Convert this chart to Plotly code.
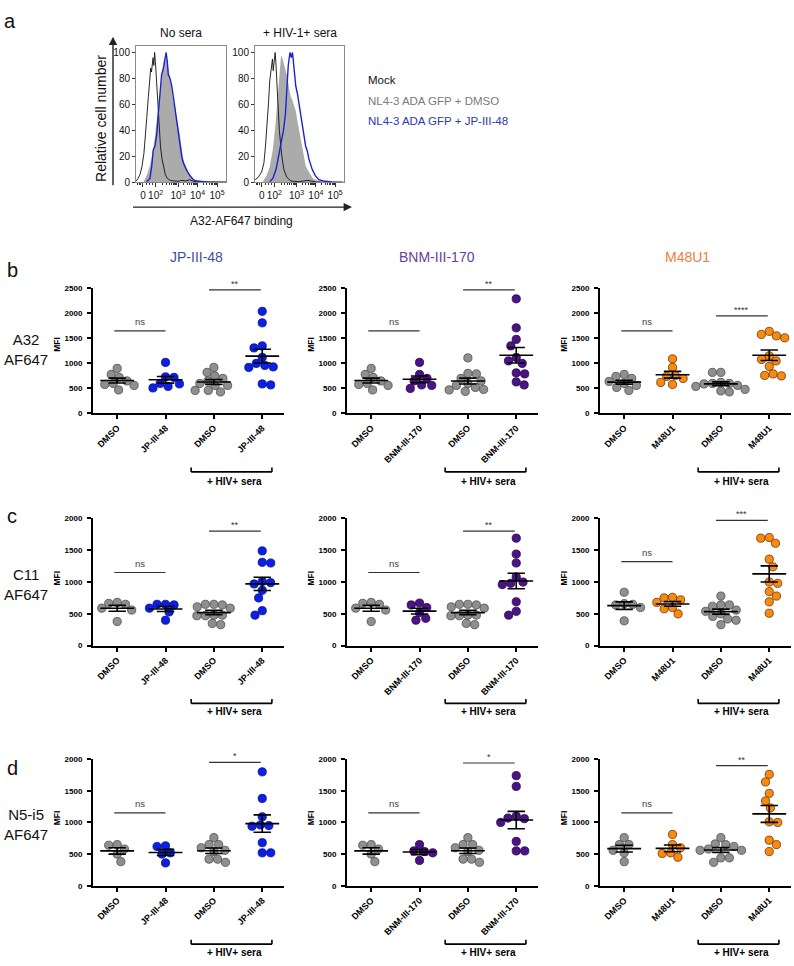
import numpy as np
import plotly.graph_objects as go

# ---------------- Panel a: flow histograms (x: log-decade display units, y: % of mode)
MOCK_NOSERA_U = [0.85, 0.95, 1.05, 1.15, 1.25, 1.32, 1.40, 1.48, 1.55, 1.60, 1.64, 1.68, 1.72, 1.76, 1.80,
                 1.84, 1.88, 1.93, 1.98, 2.04, 2.10, 2.18, 2.26, 2.35, 2.45, 2.6, 2.8, 3.0, 3.2, 3.4, 3.6,
                 3.8, 4.0, 4.5, 5.0, 5.46]
MOCK_NOSERA_V = [1, 3, 6, 12, 22, 33, 50, 66, 80, 88, 85, 92, 96, 90, 100, 93, 84, 70, 55, 40, 28, 18, 11,
                 6, 3, 1.5, 1, 0.8, 1.5, 1, 2, 0.8, 0.5, 0.2, 0, 0]
DMSO_NOSERA_U = [1.22, 1.39, 1.56, 1.73, 1.82, 1.91, 2.00, 2.08, 2.14, 2.20, 2.25, 2.30, 2.35, 2.39, 2.43,
                 2.47, 2.53, 2.59, 2.67, 2.76, 2.85, 2.93, 3.02, 3.10, 3.18, 3.27, 3.36, 3.45, 3.58, 3.70,
                 3.83, 3.96, 4.13]
DMSO_NOSERA_V = [0, 5, 13, 25, 36, 48, 60, 71, 80, 88, 91, 96, 93, 98, 95, 92, 86, 80, 72, 62, 57, 51, 44,
                 36, 27, 18, 14, 10, 6, 4, 2, 1, 0]
JP_NOSERA_U = [1.39, 1.56, 1.65, 1.73, 1.82, 1.91, 1.99, 2.08, 2.16, 2.25, 2.33, 2.39, 2.45, 2.50, 2.59,
               2.68, 2.76, 2.85, 2.93, 3.02, 3.10, 3.19, 3.27, 3.36, 3.45, 3.62, 3.79, 3.96, 4.47, 5.46]
JP_NOSERA_V = [0.5, 3, 12, 25, 28, 37, 53, 69, 83, 88, 97, 100, 93, 83, 80, 74, 66, 56, 47, 38, 28, 20, 15,
               12, 9, 5, 2, 1, 0.3, 0]

MOCK_SERA_U = [0.85, 1.02, 1.19, 1.31, 1.39, 1.48, 1.55, 1.61, 1.66, 1.70, 1.75, 1.79, 1.82, 1.86, 1.89,
               1.93, 1.96, 2.03, 2.11, 2.22, 2.34, 2.49, 2.71, 3.13, 3.6, 3.98, 4.5, 5.46]
MOCK_SERA_V = [2, 4, 8, 15, 28, 45, 62, 78, 84, 88, 95, 86, 90, 97, 100, 92, 85, 62, 40, 22, 10, 4, 1, 0.5,
               1.5, 0.3, 0, 0]
DMSO_SERA_U = [1.27, 1.44, 1.61, 1.77, 1.91, 2.03, 2.11, 2.20, 2.28, 2.37, 2.45, 2.54, 2.62, 2.70, 2.79,
               2.88, 2.96, 3.05, 3.13, 3.22, 3.30, 3.39, 3.47, 3.60, 3.72, 3.85, 3.98, 4.32]
DMSO_SERA_V = [1, 5, 12, 25, 45, 70, 85, 98, 95, 90, 86, 80, 72, 66, 63, 58, 55, 47, 40, 33, 25, 18, 13, 9,
               6, 3, 2, 0.5]
JP_SERA_U = [1.61, 1.77, 1.94, 2.08, 2.20, 2.32, 2.42, 2.50, 2.57, 2.66, 2.73, 2.79, 2.88, 2.96, 3.05, 3.13,
             3.22, 3.30, 3.39, 3.47, 3.56, 3.64, 3.81, 3.98, 4.15, 4.40, 4.83, 5.37]
JP_SERA_V = [0.5, 3, 10, 22, 33, 40, 52, 70, 90, 100, 96, 100, 88, 74, 68, 60, 52, 43, 35, 28, 24, 18, 10, 5,
             2, 1, 0.3, 0]

HIST_TICK_POS = [1.2, 1.85, 3, 4, 5]
HIST_TICK_TEXT = ["0", "10<sup>2</sup>", "10<sup>3</sup>", "10<sup>4</sup>", "10<sup>5</sup>"]
HIST_Y_TICKS = [0, 20, 40, 60, 80, 100]
HIST_TITLES = ["No sera", "+ HIV-1+ sera"]
LEGEND_TEXT = ["Mock", "NL4-3 ADA GFP + DMSO", "NL4-3 ADA GFP + JP-III-48"]

# ---------------- Panels b-d: MFI per group [DMSO, drug, DMSO + sera, drug + sera]
COL_TITLES = ["JP-III-48", "BNM-III-170", "M48U1"]
ROW_LABELS = ["A32<br>AF647", "C11<br>AF647", "N5-i5<br>AF647"]
ROW_LETTERS = ["b", "c", "d"]
Y_MAX = [2500, 2000, 2000]
Y_TICKS = [[0, 500, 1000, 1500, 2000, 2500], [0, 500, 1000, 1500, 2000], [0, 500, 1000, 1500, 2000]]
SERA_LABEL = "+ HIV+ sera"

a32_jp = [[780, 900, 720, 600, 580, 470, 560, 650],
          [1020, 730, 720, 600, 540, 510, 590],
          [820, 920, 560, 600, 650, 560, 460, 430, 460, 700, 750],
          [2040, 1810, 1350, 1310, 1120, 1000, 960, 920, 930, 570, 590]]
a32_bnm = [[780, 900, 720, 600, 580, 470, 560, 650],
           [1020, 780, 700, 650, 560, 500, 570],
           [1110, 790, 800, 650, 600, 560, 520, 470, 440, 480, 700],
           [2290, 1710, 1480, 1350, 1120, 1000, 1050, 810, 790, 570, 630]]
a32_m48 = [[780, 740, 640, 600, 560, 520, 460, 700],
           [1090, 920, 760, 740, 700, 620, 580],
           [820, 820, 600, 620, 560, 540, 480, 430, 450, 590, 600],
           [1640, 1580, 1550, 1510, 1150, 1050, 1080, 940, 790, 760, 750]]
c11_jp = [[680, 650, 665, 560, 380, 590],
          [650, 640, 650, 530, 400, 590],
          [650, 650, 640, 610, 590, 480, 480, 470, 350, 330, 470],
          [1490, 1310, 1300, 1010, 990, 970, 870, 750, 480, 550]]
c11_bnm = [[680, 650, 665, 560, 380, 590],
           [640, 600, 670, 520, 400, 430],
           [650, 650, 640, 610, 590, 480, 480, 470, 350, 330, 470],
           [1690, 1440, 1300, 1080, 980, 1000, 960, 690, 480, 540]]
c11_m48 = [[840, 640, 650, 660, 390, 600],
           [760, 750, 720, 680, 600, 580, 500],
           [780, 640, 620, 640, 560, 540, 500, 460, 400, 330, 420],
           [1700, 1690, 1610, 1360, 1240, 1000, 980, 850, 780, 690, 510]]
n5_jp = [[640, 580, 650, 500, 380],
         [630, 620, 520, 500, 360],
         [760, 650, 650, 600, 560, 540, 420, 370, 420],
         [1800, 1380, 1090, 960, 950, 940, 680, 520, 520]]
n5_bnm = [[640, 580, 650, 500, 380],
          [650, 520, 540, 550, 400],
          [760, 650, 650, 600, 560, 540, 420, 370, 420],
          [1740, 1570, 1100, 1060, 1000, 1070, 700, 550, 550]]
n5_m48 = [[760, 650, 650, 520, 560, 380],
          [810, 650, 600, 520, 450, 510],
          [760, 660, 650, 620, 440, 370, 440, 560, 580, 560],
          [1760, 1640, 1460, 1340, 1230, 1000, 1010, 720, 650, 540]]

SIG_NS_Y = [[1650, 1650, 1650], [1150, 1150, 1320], [1150, 1150, 1150]]
SIG_STAR_Y = [[2470, 2470, 1950], [1800, 1800, 1970], [1950, 1940, 1900]]
SIG_STAR_TEXT = [["**", "**", "****"], ["**", "**", "***"], ["*", "*", "**"]]

PANELS = [[a32_jp, a32_bnm, a32_m48], [c11_jp, c11_bnm, c11_m48], [n5_jp, n5_bnm, n5_m48]]

# ---------------- styling / geometry
W, H = 794, 966
ARIAL = "Arial, Liberation Sans, Helvetica, sans-serif"
GRAY_FILL, GRAY_EDGE = "#8f8f8f", "#4d4d4d"
DRUG_FILL = ["#0b1fe8", "#4b1386", "#f88a12"]
DRUG_EDGE = ["#06107a", "#240547", "#6e3300"]
TITLE_COLORS = ["#3d4fa1", "#6b3d9a", "#ee7d3b"]


def fx(p):
    return p / W


def fy(p):
    return 1 - p / H


def names(n):
    return ("x" if n == 1 else f"x{n}", "y" if n == 1 else f"y{n}",
            "xaxis" if n == 1 else f"xaxis{n}", "yaxis" if n == 1 else f"yaxis{n}")


def text(x, y, t, size, color="#111", xref="paper", yref="paper", xanchor="center", yanchor="middle",
         weight="normal", angle=0, **kw):
    d = dict(x=x, y=y, xref=xref, yref=yref, text=t, showarrow=False, xanchor=xanchor, yanchor=yanchor,
             textangle=angle, font=dict(family=ARIAL, size=size, color=color, weight=weight))
    d.update(kw)
    return d


def swarm_offsets(vals, ppx_x, ppx_y, diam):
    vals = np.asarray(vals, float)
    order = np.argsort(-vals, kind="stable")
    placed = []
    offs = np.zeros(len(vals))
    for k, i in enumerate(order):
        y = vals[i] * ppx_y
        blocked = []
        for (xp, yp) in placed:
            dy = abs(y - yp)
            if dy < diam:
                w = np.sqrt(diam ** 2 - dy ** 2)
                blocked.append((xp - w, xp + w))
        cands = [0.0] + [b for iv in blocked for b in iv]
        sgn = 1 if k % 2 == 0 else -1
        cands.sort(key=lambda c: (round(abs(c), 3), -sgn * c))
        chosen = 0.0
        for c in cands:
            if all(not (lo + 1e-6 < c < hi - 1e-6) for lo, hi in blocked):
                chosen = c
                break
        placed.append((chosen, y))
        offs[i] = chosen / ppx_x
    return offs


fig = go.Figure()
ann, shp, lay = [], [], {}

# ---------------- Panel a
hist_boxes = [(136, 226), (255, 344)]
HT, HB = 42, 180
hist_sets = [
    [(DMSO_NOSERA_U, DMSO_NOSERA_V), (MOCK_NOSERA_U, MOCK_NOSERA_V), (JP_NOSERA_U, JP_NOSERA_V)],
    [(DMSO_SERA_U, DMSO_SERA_V), (MOCK_SERA_U, MOCK_SERA_V), (JP_SERA_U, JP_SERA_V)],
]
minor_vals = [1.85 + 1.15 * np.log10(k) for k in range(2, 10)] + \
             [d + np.log10(k) for d in (3, 4) for k in range(2, 10)] + [0.9, 1.0, 1.1, 1.4, 1.55, 1.7]
for i, (x0, x1) in enumerate(hist_boxes):
    xn, yn, xk, yk = names(i + 1)
    lay[xk] = dict(domain=[fx(x0), fx(x1)], range=[0.846, 5.46], anchor=yn, showline=True, mirror=True,
                   linecolor="#8a8a8a", linewidth=1, ticks="outside", ticklen=4, tickcolor="#333",
                   tickvals=HIST_TICK_POS, ticktext=HIST_TICK_TEXT, tickangle=0,
                   tickfont=dict(family=ARIAL, size=10, color="#111"), showgrid=False, zeroline=False,
                   minor=dict(tickvals=minor_vals, ticklen=2, ticks="outside", tickcolor="#333"))
    lay[yk] = dict(domain=[fy(HB), fy(HT)], range=[0, 105.3], anchor=xn, showline=True, mirror=True,
                   linecolor="#8a8a8a", linewidth=1, ticks="outside", ticklen=3, tickcolor="#333",
                   tickvals=HIST_Y_TICKS, tickfont=dict(family=ARIAL, size=10, color="#111"),
                   showgrid=False, zeroline=False)
    (gu, gv), (mu, mv), (bu, bv) = hist_sets[i]
    fig.add_trace(go.Scatter(x=gu, y=gv, mode="lines", line=dict(width=0, color="#aaaaaa"),
                             fill="tozeroy", fillcolor="#ababab", xaxis=xn, yaxis=yn, hoverinfo="skip"))
    fig.add_trace(go.Scatter(x=mu, y=mv, mode="lines", line=dict(width=0.9, color="#111111"),
                             xaxis=xn, yaxis=yn, hoverinfo="skip"))
    fig.add_trace(go.Scatter(x=bu, y=bv, mode="lines", line=dict(width=1.4, color="#1c22cc"),
                             xaxis=xn, yaxis=yn, hoverinfo="skip"))
    ann.append(text(fx((x0 + x1) / 2), fy(29), HIST_TITLES[i], 12))

# arrows and axis labels for panel a
ann.append(dict(x=fx(113), y=fy(33), xref="paper", yref="paper", ax=0, ay=157, showarrow=True,
                arrowhead=2, arrowsize=1.2, arrowwidth=1.4, arrowcolor="#222", text=" "))
ann.append(dict(x=fx(352), y=fy(205), xref="paper", yref="paper", ax=-222, ay=0, showarrow=True,
                arrowhead=2, arrowsize=1.2, arrowwidth=1.4, arrowcolor="#222", text=" "))
ann.append(text(fx(101), fy(116), "Relative cell number", 14, angle=-90))
ann.append(text(fx(241), fy(219), "A32-AF647 binding", 12))
leg_colors = ["#111111", "#7a7a7a", "#2b3aa8"]
for t, c, yy in zip(LEGEND_TEXT, leg_colors, [77, 98, 118]):
    ann.append(text(fx(366), fy(yy), t, 11.5, color=c, xanchor="left"))
ann.append(text(fx(2), fy(17), "a", 20, xanchor="left"))

# ---------------- Panels b-d
COL_X0 = [93, 347, 600]
COL_W = 191
ROWS = [(287, 413.3), (519.3, 647.7), (762.3, 890)]
XR = [-0.5, 3.45]
BRACKET_Y = [472.3, 706, 949]
SERA_TEXT_Y = [482.3, 714.5, 957.5]
MFI_Y = [344, 580, 822]
ROW_LABEL_Y = [349, 586, 828]
LETTER_Y = [268, 517, 771]
TITLE_X = [196, 437, 687]
ppx_x = COL_W / (XR[1] - XR[0])
DOT = 8.2

for r in range(3):
    top, bot = ROWS[r]
    ymax = Y_MAX[r]
    ppx_y = (bot - top) / ymax
    for c in range(3):
        n = 3 + r * 3 + c
        xn, yn, xk, yk = names(n)
        x0 = COL_X0[c]
        labels = ["DMSO", COL_TITLES[c], "DMSO", COL_TITLES[c]]
        lay[xk] = dict(domain=[fx(x0), fx(x0 + COL_W)], range=XR, anchor=yn, showline=True,
                       linecolor="black", linewidth=2, ticks="outside", ticklen=4, tickwidth=1.5,
                       tickcolor="black", tickvals=[0, 1, 2, 3], ticktext=labels, tickangle=-45,
                       tickfont=dict(family=ARIAL, size=9, color="black", weight="bold"),
                       showgrid=False, zeroline=False)
        lay[yk] = dict(domain=[fy(bot), fy(top)], range=[0, ymax], anchor=xn, showline=True,
                       linecolor="black", linewidth=2, ticks="outside", ticklen=4, tickwidth=1.5,
                       tickcolor="black", tickvals=Y_TICKS[r],
                       tickfont=dict(family=ARIAL, size=8, color="black", weight="bold"),
                       ticklabelstandoff=3, showgrid=False, zeroline=False)
        groups = PANELS[r][c]
        for j, vals in enumerate(groups):
            vals = np.asarray(vals, float)
            offs = swarm_offsets(vals, ppx_x, ppx_y, DOT + 0.3)
            fill = GRAY_FILL if j % 2 == 0 else DRUG_FILL[c]
            edge = GRAY_EDGE if j % 2 == 0 else DRUG_EDGE[c]
            fig.add_trace(go.Scatter(x=j + offs, y=vals, mode="markers", xaxis=xn, yaxis=yn,
                                     marker=dict(size=DOT, color=fill, line=dict(width=0.8, color=edge)),
                                     cliponaxis=False, hoverinfo="skip"))
            m = vals.mean()
            s = vals.std(ddof=1) / np.sqrt(len(vals))
            fig.add_trace(go.Scatter(
                x=[j - 0.35, j + 0.35, None, j, j, None, j - 0.18, j + 0.18, None, j - 0.18, j + 0.18],
                y=[m, m, None, m - s, m + s, None, m + s, m + s, None, m - s, m - s],
                mode="lines", line=dict(color="black", width=1.6), xaxis=xn, yaxis=yn,
                cliponaxis=False, hoverinfo="skip"))
        # significance bars
        ns_y = SIG_NS_Y[r][c]
        st_y = SIG_STAR_Y[r][c]
        shp.append(dict(type="line", xref=xn, yref=yn, x0=-0.06, x1=1.0, y0=ns_y, y1=ns_y,
                        line=dict(color="#333", width=1.2)))
        shp.append(dict(type="line", xref=xn, yref=yn, x0=1.9, x1=2.97, y0=st_y, y1=st_y,
                        line=dict(color="#333", width=1.2)))
        ann.append(text(0.47, ns_y, "ns", 9.5, color="#444", xref=xn, yref=yn, yanchor="bottom", yshift=2))
        ann.append(text(2.43, st_y, SIG_STAR_TEXT[r][c], 9, color="#333", xref=xn, yref=yn,
                        yanchor="bottom", yshift=-1))
        # "+ HIV+ sera" bracket
        yb = fy(BRACKET_Y[r])
        yb2 = fy(BRACKET_Y[r] - 4.5)
        for (a0, a1, b0, b1) in [(1.53, 3.2, yb, yb), (1.53, 1.53, yb, yb2), (3.2, 3.2, yb, yb2)]:
            shp.append(dict(type="line", xref=xn, yref="paper", x0=a0, x1=a1, y0=b0, y1=b1,
                            line=dict(color="black", width=1.6)))
        ann.append(text(2.42, fy(SERA_TEXT_Y[r]), SERA_LABEL, 10, color="black", xref=xn, weight="bold"))
        ann.append(text(fx(x0 - 36), fy(MFI_Y[r]), "MFI", 8.5, color="black", weight="bold", angle=-90))
        if r == 0:
            ann.append(text(fx(TITLE_X[c]), fy(255), COL_TITLES[c], 14, color=TITLE_COLORS[c]))
    ann.append(text(fx(26), fy(ROW_LABEL_Y[r]), ROW_LABELS[r], 15))
    ann.append(text(fx(5), fy(LETTER_Y[r]), ROW_LETTERS[r], 20, xanchor="left"))

fig.update_layout(width=W, height=H, margin=dict(l=0, r=0, t=0, b=0), paper_bgcolor="white",
                  plot_bgcolor="white", showlegend=False, font=dict(family=ARIAL),
                  annotations=ann, shapes=shp, **lay)
fig.write_html("out.html", config={"displayModeBar": False},
               post_script="document.body.style.margin='0px';document.body.style.overflow='hidden';")
